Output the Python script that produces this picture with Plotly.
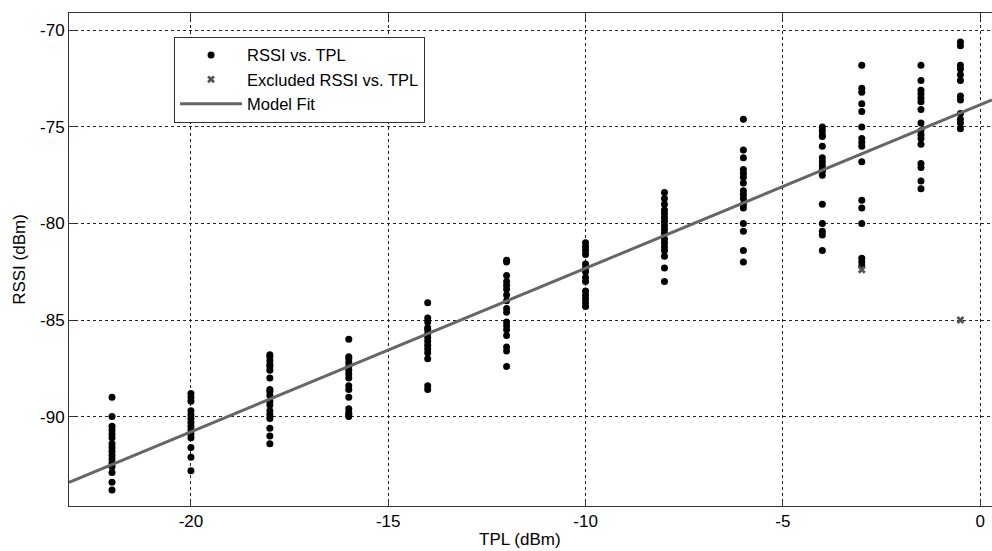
import plotly.graph_objects as go

# TPL levels (dBm) and RSSI readings (dBm) at each level
tpl_levels = [-22, -20, -18, -16, -14, -12, -10, -8, -6, -4, -3, -1.5, -0.5]
rssi_m22 = [-89.0, -90.0, -90.5, -90.7, -90.9, -91.1, -91.4, -91.6, -91.8, -92.0, -92.2, -92.4, -92.6, -92.9, -93.4, -93.8]
rssi_m20 = [-88.8, -89.0, -89.2, -89.7, -89.9, -90.1, -90.3, -90.5, -90.7, -90.9, -91.1, -91.6, -92.1, -92.8]
rssi_m18 = [-86.8, -86.9, -87.1, -87.3, -87.4, -87.6, -88.0, -88.6, -88.7, -88.9, -89.2, -89.4, -89.7, -89.9, -90.1, -90.6, -91.0, -91.4]
rssi_m16 = [-86.0, -86.9, -87.0, -87.2, -87.4, -87.6, -87.8, -88.0, -88.4, -88.6, -89.0, -89.6, -89.8, -89.9, -90.0]
rssi_m14 = [-84.1, -84.9, -85.1, -85.4, -85.5, -85.7, -85.9, -86.1, -86.3, -86.5, -86.7, -87.0, -88.4, -88.6]
rssi_m12 = [-81.9, -82.0, -82.7, -83.0, -83.2, -83.4, -83.7, -84.0, -84.4, -84.6, -85.1, -85.3, -85.5, -85.8, -86.4, -86.6, -87.4]
rssi_m10 = [-81.0, -81.2, -81.4, -81.6, -82.1, -82.3, -82.5, -82.8, -83.0, -83.5, -83.7, -83.9, -84.1, -84.3]
rssi_m8 = [-78.4, -78.7, -79.0, -79.3, -79.5, -79.7, -79.9, -80.1, -80.3, -80.5, -80.8, -81.0, -81.2, -81.4, -81.7, -82.3, -83.0]
rssi_m6 = [-74.6, -76.2, -76.6, -77.2, -77.4, -77.6, -77.9, -78.3, -78.5, -78.7, -79.0, -79.2, -80.0, -80.4, -81.4, -82.0]
rssi_m4 = [-75.0, -75.2, -75.4, -75.5, -76.0, -76.6, -76.8, -77.0, -77.2, -77.3, -77.5, -79.0, -80.0, -80.4, -80.6, -81.4]
rssi_m3 = [-71.8, -73.0, -73.2, -73.8, -74.2, -75.0, -75.6, -75.8, -76.0, -76.8, -78.8, -79.2, -80.0, -81.8, -82.0, -82.2]
rssi_m1_5 = [-71.8, -72.6, -73.1, -73.3, -73.5, -73.7, -74.1, -74.8, -75.2, -75.4, -75.6, -75.9, -76.9, -77.1, -77.8, -78.2]
rssi_m0_5 = [-70.6, -70.8, -71.8, -72.0, -72.3, -72.6, -73.4, -73.6, -74.3, -74.6, -74.8, -75.1]

rssi_by_level = [rssi_m22, rssi_m20, rssi_m18, rssi_m16, rssi_m14, rssi_m12, rssi_m10,
                 rssi_m8, rssi_m6, rssi_m4, rssi_m3, rssi_m1_5, rssi_m0_5]

# Excluded points
excl_tpl = [-3, -0.5]
excl_rssi = [-82.4, -85.0]

# Model fit line (end points)
fit_tpl = [-23.09, 0.30]
fit_rssi = [-93.4, -73.6]

x_ticks = [-20, -15, -10, -5, 0]
x_tick_labels = ["-20", "-15", "-10", "-5", "0"]
y_ticks = [-90, -85, -80, -75, -70]
y_tick_labels = ["-90", "-85", "-80", "-75", "-70"]

pts_x, pts_y = [], []
for lvl, vals in zip(tpl_levels, rssi_by_level):
    pts_x += [lvl] * len(vals)
    pts_y += vals

FONT = "Liberation Sans, Arial, sans-serif"

fig = go.Figure()
fig.add_trace(go.Scatter(
    x=pts_x, y=pts_y, mode="markers", name="RSSI vs. TPL",
    marker=dict(symbol="circle", size=7, color="black", line=dict(width=0)),
))
fig.add_trace(go.Scatter(
    x=excl_tpl, y=excl_rssi, mode="markers", name="Excluded RSSI vs. TPL",
    marker=dict(symbol="x", size=7, color="#555555", line=dict(width=0)),
))
fig.add_trace(go.Scatter(
    x=fit_tpl, y=fit_rssi, mode="lines", name="Model Fit",
    line=dict(color="#666666", width=3),
))

axis_common = dict(
    showline=True, linecolor="#333333", linewidth=1,
    ticks="inside", ticklen=6, tickcolor="#333333",
    showgrid=True, gridcolor="#222222", griddash="dot", gridwidth=1,
    zeroline=False,
    tickfont=dict(family=FONT, size=17, color="black"),
    title_font=dict(family=FONT, size=17, color="black"),
    ticklabeloverflow="allow",
)

fig.update_layout(
    width=992, height=551,
    margin=dict(l=69, r=0, t=13, b=45),
    paper_bgcolor="white", plot_bgcolor="white",
    font=dict(family=FONT, color="black"),
    xaxis=dict(range=[-23.09, 0.30], tickvals=x_ticks, ticktext=x_tick_labels,
               mirror="ticks", **axis_common),
    yaxis=dict(range=[-94.63, -69.1], tickvals=y_ticks, ticktext=y_tick_labels,
               title=dict(text="RSSI (dBm)", standoff=10), **axis_common),
    legend=dict(
        x=0.1138, y=0.952, xanchor="left", yanchor="top",
        bgcolor="white", bordercolor="#333333", borderwidth=1,
        font=dict(family=FONT, size=16.5, color="black"),
        itemwidth=62, tracegroupgap=0,
    ),
    annotations=[dict(
        text="TPL (dBm)", xref="paper", yref="paper", x=0.4886, y=-0.0675,
        xanchor="center", yanchor="middle", showarrow=False,
        font=dict(family=FONT, size=17, color="black"),
    )],
    showlegend=True,
)

fig.write_html("out.html")
